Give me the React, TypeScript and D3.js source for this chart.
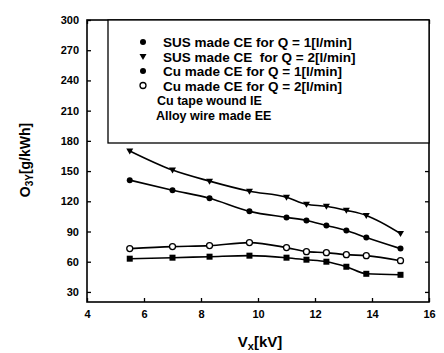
import {useEffect, useRef} from "react";
import * as d3 from "d3";

// data
const voltages = [5.5, 7, 8.3, 9.7, 11, 11.7, 12.4, 13.1, 13.8, 15];
const susQ1 = [141, 131, 123, 110, 104, 101, 96, 91, 84, 73];
const susQ2 = [170, 151, 140, 130, 124, 117, 115, 111, 106, 88];
const cuQ1 = [63, 64, 65, 66, 64, 62, 60, 55, 48, 47];
const cuQ2 = [73, 75, 76, 79, 74, 70, 69, 67, 66, 61];
const xTicks = [4, 6, 8, 10, 12, 14, 16];
const yTicks = [30, 60, 90, 120, 150, 180, 210, 240, 270, 300];
const legendLabels = [
    "SUS made CE for Q = 1[l/min]",
    "SUS made CE  for Q = 2[l/min]",
    "Cu made CE for Q = 1[l/min]",
    "Cu made CE for Q = 2[l/min]",
];
const legendNotes = ["Cu tape wound IE", "Alloy wire made EE"];

const series = [
    {name: legendLabels[0], values: susQ1, symbol: "circle"},
    {name: legendLabels[1], values: susQ2, symbol: "triangle"},
    {name: legendLabels[2], values: cuQ1, symbol: "square"},
    {name: legendLabels[3], values: cuQ2, symbol: "open"},
];

export default function App() {
    const ref = useRef<SVGSVGElement>(null);

    useEffect(() => {
        const svg = d3.select(ref.current);
        svg.selectAll("*").remove();

        const margin = {top: 20, right: 15, bottom: 51, left: 87};
        const width = 444 - margin.left - margin.right;
        const height = 353 - margin.top - margin.bottom;
        const font = "'Liberation Sans', Arial, sans-serif";

        const g = svg.append("g")
            .attr("transform", `translate(${margin.left},${margin.top})`);

        const x = d3.scaleLinear().domain([4, 16]).range([0, width]);
        const y = d3.scaleLinear().domain([20, 300]).range([height, 0]);

        // frame
        g.append("rect")
            .attr("width", width).attr("height", height)
            .attr("fill", "none").attr("stroke", "#000").attr("stroke-width", 1.6);

        // inward ticks on all four sides
        const tickStyle = (sel: any) => {
            sel.select(".domain").remove();
            sel.selectAll("line").attr("stroke", "#000").attr("stroke-width", 1.3);
            sel.selectAll("text")
                .attr("font-family", font).attr("font-weight", "bold")
                .attr("font-size", 11).attr("fill", "#000");
        };

        g.append("g").attr("transform", `translate(0,${height})`)
            .call(d3.axisBottom(x).tickValues(xTicks).tickSizeInner(-4).tickSizeOuter(0).tickPadding(8))
            .call(tickStyle);
        g.append("g")
            .call(d3.axisTop(x).tickValues(xTicks).tickSizeInner(-4).tickSizeOuter(0).tickFormat(() => ""))
            .call(tickStyle);
        g.append("g")
            .call(d3.axisLeft(y).tickValues(yTicks).tickSizeInner(-4).tickSizeOuter(0).tickPadding(8))
            .call(tickStyle);
        g.append("g").attr("transform", `translate(${width},0)`)
            .call(d3.axisRight(y).tickValues(yTicks).tickSizeInner(-4).tickSizeOuter(0).tickFormat(() => ""))
            .call(tickStyle);

        const line = d3.line<number>()
            .x((d, i) => x(voltages[i]))
            .y(d => y(d))
            .curve(d3.curveMonotoneX);

        const drawSymbol = (sel: any, symbol: string, cx: number, cy: number) => {
            if (symbol === "circle") {
                sel.append("circle").attr("cx", cx).attr("cy", cy).attr("r", 3).attr("fill", "#000");
            } else if (symbol === "open") {
                sel.append("circle").attr("cx", cx).attr("cy", cy).attr("r", 3)
                    .attr("fill", "#fff").attr("stroke", "#000").attr("stroke-width", 1.3);
            } else if (symbol === "square") {
                sel.append("rect").attr("x", cx - 3).attr("y", cy - 3)
                    .attr("width", 6).attr("height", 6).attr("fill", "#000");
            } else {
                sel.append("path")
                    .attr("d", `M${cx - 3.5},${cy - 2.5}L${cx + 3.5},${cy - 2.5}L${cx},${cy + 3.5}Z`)
                    .attr("fill", "#000");
            }
        };

        series.forEach(s => {
            g.append("path")
                .attr("d", line(s.values))
                .attr("fill", "none").attr("stroke", "#000").attr("stroke-width", 1.6);
            const pts = g.append("g");
            s.values.forEach((v, i) => drawSymbol(pts, s.symbol, x(voltages[i]), y(v)));
        });

        // legend box
        const lg = g.append("g").attr("transform", "translate(21,0)");
        lg.append("rect")
            .attr("width", width - 21).attr("height", 123)
            .attr("fill", "#fff").attr("stroke", "#000").attr("stroke-width", 1.3);
        series.forEach((s, i) => {
            const cy = 22 + i * 14.5;
            drawSymbol(lg, s.symbol === "square" ? "circle" : s.symbol, 35, cy);
            lg.append("text")
                .attr("x", 55).attr("y", cy + 5)
                .style("white-space", "pre")
                .attr("font-family", font).attr("font-weight", "bold").attr("font-size", 13.5)
                .text(s.name);
        });
        legendNotes.forEach((t, i) => {
            lg.append("text")
                .attr("x", i === 0 ? 49 : 48).attr("y", 85 + i * 15)
                .attr("font-family", font).attr("font-weight", "bold").attr("font-size", 12.5)
                .text(t);
        });

        // axis titles
        const xt = svg.append("text")
            .attr("x", 260).attr("y", 347)
            .attr("text-anchor", "middle")
            .attr("font-family", font).attr("font-weight", "bold").attr("font-size", 15);
        xt.append("tspan").text("V");
        xt.append("tspan").attr("font-size", 11).attr("dy", 3).text("x");
        xt.append("tspan").attr("dy", -3).text("[kV]");

        const yt = svg.append("text")
            .attr("transform", "translate(30,160) rotate(-90)")
            .attr("text-anchor", "middle")
            .attr("font-family", font).attr("font-weight", "bold").attr("font-size", 14);
        yt.append("tspan").text("O");
        yt.append("tspan").attr("font-size", 10).attr("dy", 3).text("3Y");
        yt.append("tspan").attr("dy", -3).text("[g/kWh]");
    }, []);

    return <svg ref={ref} width={444} height={353}
                style={{position: "absolute", left: 0, top: 0, background: "#fff"}}/>;
}
